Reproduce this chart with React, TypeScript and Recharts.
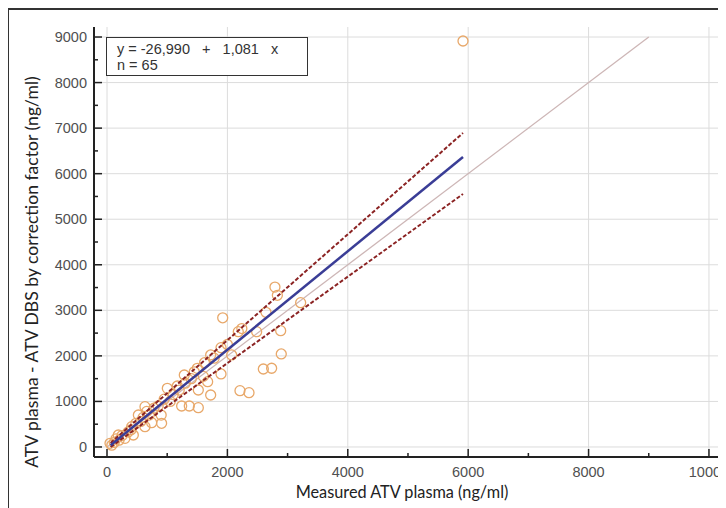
import { ComposedChart, Scatter, XAxis, YAxis, CartesianGrid } from 'recharts';

type Pt = { x: number, y: number };

// measured plasma vs corrected DBS (ng/ml)
const samples: Array<Pt> = [
    { x: 5914, y: 8913 }, { x: 3217, y: 3168 }, { x: 2790, y: 3510 }, { x: 2830, y: 3330 },
    { x: 2641, y: 2957 }, { x: 2885, y: 2554 }, { x: 2895, y: 2042 }, { x: 2597, y: 1712 },
    { x: 2735, y: 1728 }, { x: 2209, y: 1236 }, { x: 2359, y: 1192 }, { x: 2181, y: 2531 },
    { x: 2240, y: 2600 }, { x: 2486, y: 2531 }, { x: 1922, y: 2836 }, { x: 1894, y: 2180 },
    { x: 1722, y: 2020 }, { x: 2071, y: 2020 }, { x: 1894, y: 1603 }, { x: 1672, y: 1434 },
    { x: 1722, y: 1141 }, { x: 1517, y: 1251 }, { x: 1500, y: 1727 }, { x: 1284, y: 1580 },
    { x: 1240, y: 900 }, { x: 1367, y: 900 }, { x: 1517, y: 863 }, { x: 1002, y: 1288 },
    { x: 1168, y: 1339 }, { x: 907, y: 520 }, { x: 742, y: 534 }, { x: 631, y: 885 },
    { x: 631, y: 446 }, { x: 521, y: 702 }, { x: 410, y: 446 }, { x: 437, y: 263 },
    { x: 299, y: 190 }, { x: 188, y: 263 }, { x: 50, y: 80 }, { x: 1620, y: 1850 },
    { x: 1780, y: 1950 }, { x: 2000, y: 2250 }, { x: 1400, y: 1500 }, { x: 1450, y: 1650 },
    { x: 1100, y: 1150 }, { x: 1200, y: 1250 }, { x: 950, y: 1050 }, { x: 850, y: 900 },
    { x: 780, y: 850 }, { x: 700, y: 700 }, { x: 600, y: 650 }, { x: 560, y: 560 },
    { x: 480, y: 520 }, { x: 400, y: 380 }, { x: 350, y: 330 }, { x: 250, y: 250 },
    { x: 200, y: 150 }, { x: 150, y: 180 }, { x: 120, y: 100 }, { x: 80, y: 40 },
    { x: 1050, y: 1000 }, { x: 1300, y: 1400 }, { x: 1600, y: 1550 }, { x: 900, y: 700 },
    { x: 660, y: 780 },
];

const identityLine: Array<Pt> = [{ x: 0, y: 0 }, { x: 9000, y: 9000 }];
const regressionLine: Array<Pt> = [{ x: 60, y: 38 }, { x: 5914, y: 6366 }];
const upperBand: Array<Pt> = [{ x: 60, y: 90 }, { x: 5914, y: 6893 }];
const lowerBand: Array<Pt> = [{ x: 60, y: 0 }, { x: 5914, y: 5554 }];

const xTicks = [0, 1000, 2000, 3000, 4000, 5000, 6000, 7000, 8000, 9000, 10000];
const yTicks = [0, 500, 1000, 1500, 2000, 2500, 3000, 3500, 4000, 4500, 5000, 5500, 6000, 6500, 7000, 7500, 8000, 8500, 9000];
const xGrid = [0, 2000, 4000, 6000, 8000, 10000];
const yGrid = [0, 1000, 2000, 3000, 4000, 5000, 6000, 7000, 8000, 9000];

const tickFont = '"Liberation Sans", Arial, sans-serif';
const labelFont = 'Lato, "Open Sans", sans-serif';

const XTick = (props: any) => {
    const { x, y, payload } = props;
    const major = payload.value % 2000 === 0;
    return (
        <g>
            <line x1={x} x2={x} y1={y} y2={y - (major ? 8 : 4)} stroke="#222" strokeWidth={1.5} />
            {major && <text x={x} y={y + 20} textAnchor="middle" fontSize={14.5} fill="#505050" fontFamily={tickFont}>{payload.value}</text>}
        </g>
    );
};

const YTick = (props: any) => {
    const { x, y, payload } = props;
    const major = payload.value % 1000 === 0;
    return (
        <g>
            <line x1={x} x2={x + (major ? 8 : 4)} y1={y} y2={y} stroke="#222" strokeWidth={1.5} />
            {major && <text x={x - 7} y={y + 5} textAnchor="end" fontSize={14.5} fill="#505050" fontFamily={tickFont}>{payload.value}</text>}
        </g>
    );
};

const NoDot = () => <g />;

const App = () => {
    return (
        <div style={{ position: 'relative', width: 718, height: 500 }}>
            <ComposedChart width={718} height={500} margin={{ top: 19, right: 5, left: 0, bottom: 0 }}>
                <CartesianGrid stroke="#dcdcdc" horizontalValues={yGrid} verticalValues={xGrid} />
                <XAxis
                    type="number"
                    dataKey="x"
                    domain={[-216, 10200]}
                    allowDataOverflow={true}
                    ticks={xTicks}
                    interval={0}
                    tickSize={0}
                    tickMargin={0}
                    height={51}
                    axisLine={{ stroke: '#222', strokeWidth: 2 }}
                    tick={<XTick />} />
                <YAxis
                    type="number"
                    dataKey="y"
                    domain={[-220, 9220]}
                    allowDataOverflow={true}
                    ticks={yTicks}
                    interval={0}
                    tickSize={0}
                    tickMargin={0}
                    width={86}
                    axisLine={{ stroke: '#222', strokeWidth: 2 }}
                    tick={<YTick />} />
                <Scatter data={identityLine} line={{ stroke: '#cdb6b6', strokeWidth: 1.3 }} shape={NoDot} isAnimationActive={false} />
                <Scatter data={samples} fill="none" stroke="#e8a86a" strokeWidth={1.3} shape={(p: any) => <circle cx={p.cx} cy={p.cy} r={5} fill="none" stroke="#e8a86a" strokeWidth={1.3} />} isAnimationActive={false} />
                <Scatter data={upperBand} line={{ stroke: '#8b2323', strokeWidth: 2, strokeDasharray: '4 2' }} shape={NoDot} isAnimationActive={false} />
                <Scatter data={lowerBand} line={{ stroke: '#8b2323', strokeWidth: 2, strokeDasharray: '4 2' }} shape={NoDot} isAnimationActive={false} />
                <Scatter data={regressionLine} line={{ stroke: '#3a3d96', strokeWidth: 2.5 }} shape={NoDot} isAnimationActive={false} />
                <text x={394} y={490} textAnchor="middle" fontSize={16.3} fill="#222" fontFamily={labelFont}>Measured ATV plasma (ng/ml)</text>
                <text x={30} y={264} textAnchor="middle" fontSize={17.6} fill="#222" fontFamily={labelFont} transform="rotate(-90 30 264)">ATV plasma - ATV DBS by correction factor (ng/ml)</text>
            </ComposedChart>
            <div style={{ position: 'absolute', left: -1, top: 0, width: 717, height: 498, borderTop: '2px solid #333', borderLeft: '2px solid #333', zIndex: 2, pointerEvents: 'none' }} />
            <div style={{ position: 'absolute', left: 98, top: 29, width: 190, height: 34, border: '1.5px solid #333', background: '#fff', fontFamily: tickFont, fontSize: 14.5, lineHeight: '16px', color: '#333', padding: '3px 0 0 10px', boxSizing: 'content-box', zIndex: 3 }}>
                <div style={{ whiteSpace: 'pre' }}>{'y = -26,990   +   1,081   x'}</div>
                <div>n = 65</div>
            </div>
        </div>
    );
};

export default App;
